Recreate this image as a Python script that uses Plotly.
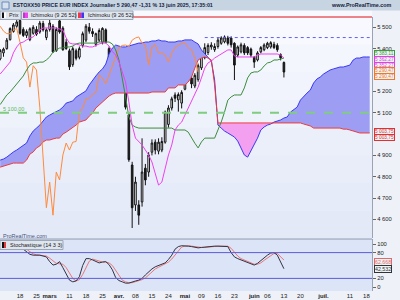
import plotly.graph_objects as go
import pandas as pd

# ---------------- data ----------------
holidays = ["2025-04-18", "2025-04-21", "2025-05-01"]
all_days = [d.strftime("%Y-%m-%d") for d in pd.bdate_range("2025-02-10", "2025-07-21")
            if d.strftime("%Y-%m-%d") not in holidays]
n_price = 87
dates = all_days[:n_price]

open_ = [5352, 5380, 5400, 5442, 5480, 5505, 5532, 5490, 5462, 5442,
         5472, 5490, 5478, 5518, 5452, 5490, 5505, 5390, 5530, 5496,
         5430, 5390, 5325, 5390, 5360, 5415, 5440, 5500, 5480, 5420,
         5440, 5430, 5488, 5400, 5370, 5323, 5277, 5320, 5262, 5090,
         4855, 4668, 4668, 4682, 4840, 4822, 4915, 4962, 4920, 4925,
         4962, 5045, 5122, 5183, 5160, 5145, 5210, 5285, 5262, 5225,
         5255, 5310, 5358, 5382, 5408, 5395, 5410, 5425, 5432, 5450,
         5450, 5425, 5370, 5385, 5415, 5405, 5398, 5360, 5347, 5385,
         5395, 5405, 5408, 5420, 5415, 5372, 5335]
high = [5398, 5405, 5450, 5500, 5520, 5540, 5545, 5500, 5490, 5500,
        5510, 5505, 5530, 5530, 5495, 5545, 5515, 5500, 5545, 5505,
        5445, 5400, 5410, 5400, 5410, 5480, 5515, 5520, 5495, 5475,
        5495, 5500, 5495, 5410, 5380, 5330, 5330, 5335, 5270, 5100,
        4870, 4800, 4690, 4980, 4860, 4915, 4975, 4975, 4980, 4985,
        5110, 5135, 5175, 5195, 5195, 5205, 5290, 5295, 5270, 5285,
        5330, 5375, 5425, 5425, 5430, 5425, 5450, 5458, 5462, 5460,
        5458, 5430, 5415, 5428, 5425, 5412, 5405, 5365, 5388, 5412,
        5425, 5432, 5435, 5432, 5425, 5378, 5340]
low = [5345, 5362, 5395, 5438, 5475, 5498, 5465, 5455, 5450, 5435,
       5465, 5460, 5470, 5480, 5440, 5480, 5380, 5385, 5470, 5390,
       5395, 5300, 5315, 5345, 5350, 5405, 5430, 5470, 5455, 5410,
       5430, 5420, 5425, 5350, 5330, 5210, 5265, 5290, 5115, 4870,
       4560, 4640, 4575, 4660, 4760, 4800, 4900, 4905, 4905, 4915,
       4955, 5030, 5110, 5150, 5105, 5120, 5205, 5245, 5215, 5215,
       5245, 5300, 5350, 5370, 5395, 5385, 5400, 5418, 5425, 5415,
       5405, 5253, 5360, 5378, 5370, 5370, 5360, 5310, 5340, 5378,
       5388, 5398, 5400, 5398, 5385, 5345, 5265]
close = [5392, 5398, 5440, 5494, 5511, 5525, 5472, 5462, 5480, 5493,
         5500, 5468, 5520, 5488, 5488, 5520, 5385, 5490, 5478, 5395,
         5400, 5315, 5400, 5355, 5400, 5470, 5505, 5482, 5470, 5470,
         5485, 5495, 5430, 5357, 5337, 5220, 5320, 5300, 5126, 4880,
         4655, 4775, 4620, 4822, 4785, 4902, 4958, 4925, 4962, 4965,
         5103, 5122, 5165, 5168, 5185, 5195, 5277, 5262, 5235, 5275,
         5320, 5368, 5405, 5415, 5417, 5410, 5440, 5450, 5455, 5425,
         5418, 5323, 5408, 5418, 5380, 5380, 5370, 5337, 5380, 5405,
         5417, 5425, 5428, 5405, 5395, 5357, 5290.47]

tenkan = [5281, 5300, 5319, 5337, 5380, 5408, 5426, 5431, 5441, 5450,
          5455, 5473, 5487, 5497, 5497, 5497, 5497, 5497, 5492, 5487,
          5450, 5426, 5422, 5422, 5417, 5412, 5412, 5408, 5408, 5417,
          5422, 5426, 5426, 5412, 5386, 5370, 5337, 5291, 5244, 5150,
          5042, 4981, 4963, 4949, 4925, 4902, 4869, 4818, 4761, 4775,
          4841, 4902, 4949, 5019, 5042, 5056, 5089, 5122, 5150, 5183,
          5220, 5263, 5309, 5333, 5342, 5356, 5366, 5375, 5384, 5394,
          5394, 5366, 5361, 5361, 5361, 5361, 5361, 5361, 5370, 5375,
          5375, 5375, 5375, 5375, 5375, 5370, 5356]
kijun = [5138, 5159, 5183, 5197, 5216, 5230, 5253, 5272, 5300, 5323,
         5333, 5333, 5337, 5337, 5347, 5361, 5384, 5394, 5403, 5403,
         5408, 5408, 5412, 5422, 5426, 5426, 5426, 5426, 5426, 5426,
         5431, 5431, 5431, 5431, 5422, 5394, 5347, 5267, 5174, 5080,
         5042, 5033, 5028, 5028, 5028, 5028, 5028, 5028, 5028, 5028,
         5028, 5028, 5028, 5019, 5019, 5019, 5019, 5009, 4981, 4957,
         4935, 4963, 4981, 4981, 4981, 4981, 5019, 5056, 5103, 5159,
         5174, 5183, 5183, 5183, 5216, 5263, 5286, 5291, 5291, 5300,
         5319, 5333, 5337, 5347, 5347, 5352, 5356]
senkou_a = [4878, 4883, 4892, 4906, 4916, 4925, 4935, 4944, 4958, 4991,
            5014, 5028, 5042, 5061, 5080, 5089, 5098, 5103, 5113, 5126,
            5145, 5150, 5155, 5173, 5183, 5192, 5202, 5230, 5253, 5272,
            5291, 5305, 5328, 5375, 5403, 5417, 5412, 5408, 5408, 5412,
            5417, 5422, 5426, 5426, 5431, 5431, 5436, 5436, 5441, 5436,
            5436, 5431, 5431, 5431, 5436, 5436, 5441, 5441, 5441, 5431,
            5422, 5394, 5375, 5361, 5342, 5253, 5042, 5028, 5014, 5005,
            4995, 4986, 4967, 4935, 4902, 4892, 4920, 4949, 4981, 5019,
            5033, 5042, 5047, 5056, 5061, 5066, 5075, 5080, 5103, 5113,
            5126, 5159, 5178, 5192, 5206, 5239, 5258, 5267, 5281, 5291,
            5300, 5305, 5309, 5314, 5314, 5319, 5323, 5347, 5356, 5356,
            5361, 5361, 5361]
senkou_b = [4845, 4850, 4855, 4859, 4864, 4864, 4864, 4864, 4878, 4906,
            4916, 4935, 4944, 4963, 4972, 4972, 4977, 4981, 4981, 5000,
            5009, 5019, 5028, 5042, 5056, 5061, 5066, 5084, 5098, 5122,
            5136, 5150, 5164, 5178, 5187, 5192, 5192, 5192, 5192, 5192,
            5192, 5192, 5192, 5192, 5192, 5192, 5197, 5197, 5197, 5197,
            5197, 5216, 5216, 5216, 5230, 5230, 5230, 5244, 5267, 5309,
            5347, 5356, 5361, 5356, 5347, 5230, 5052, 5052, 5052, 5052,
            5052, 5052, 5052, 5052, 5052, 5052, 5052, 5052, 5052, 5052,
            5052, 5052, 5052, 5052, 5052, 5052, 5052, 5052, 5052, 5052,
            5052, 5052, 5047, 5042, 5038, 5028, 5028, 5028, 5028, 5028,
            5028, 5028, 5028, 5028, 5023, 5023, 5019, 5014, 5009, 5005,
            5005, 5005, 5005]

stoch_k = [95, 96, 97, 97, 96, 95, 93, 88, 82, 76,
           74, 74, 74, 72, 70, 59, 51, 53, 59, 45,
           30, 16, 12, 14, 24, 50, 66, 66, 63, 60,
           56, 58, 59, 52, 40, 22, 15, 12, 9, 9,
           12, 14, 16, 20, 28, 36, 42, 47, 50, 53,
           56, 64, 74, 88, 94, 96, 96, 95, 94, 92,
           91, 92, 93, 94, 95, 95, 95, 95, 95, 94,
           80, 70, 66, 63, 60, 56, 53, 51, 55, 62,
           69, 74, 79, 80, 74, 60, 42.532]
stoch_d = [94, 95, 96, 96, 96, 96, 95, 92, 88, 82,
           77, 75, 74, 73, 72, 67, 60, 55, 54, 53,
           45, 32, 20, 14, 17, 29, 46, 60, 65, 63,
           60, 58, 58, 56, 50, 38, 26, 16, 12, 10,
           10, 12, 14, 17, 21, 28, 35, 42, 46, 50,
           53, 58, 65, 75, 85, 93, 95, 96, 95, 94,
           92, 92, 92, 93, 94, 95, 95, 95, 95, 95,
           90, 81, 72, 66, 63, 60, 56, 53, 53, 56,
           62, 68, 74, 78, 78, 71, 62.668]

chikou_shift = 26
support_level = 5100
resistance_level = 5452
resistance_start = "2025-05-12"

tick_dates = ["2025-02-18", "2025-02-25", "2025-03-03", "2025-03-11", "2025-03-18",
              "2025-03-25", "2025-04-01", "2025-04-08", "2025-04-15", "2025-04-24",
              "2025-05-02", "2025-05-09", "2025-05-16", "2025-05-23", "2025-06-02",
              "2025-06-06", "2025-06-13", "2025-06-20", "2025-07-01", "2025-07-11",
              "2025-07-18"]
tick_text = ["18", "25", "<b>mars</b>", "11", "18", "25", "<b>avr.</b>", "08", "15", "24",
             "<b>mai</b>", "09", "16", "23", "<b>juin</b>", "06", "13", "20", "<b>juil.</b>",
             "11", "18"]
price_ticks = [4600, 4700, 4800, 4900, 5100, 5200, 5400, 5500]
stoch_ticks = [0, 20, 80, 100]

title = "ESTOXX50 PRICE EUR INDEX Journalier 5 290,47 -1,31 % 13 juin 2025, 17:35:01"
value_labels = [  # text, color
    ("5 383,11", "#3d9a3d"),
    ("5 362,27", "#e040e0"),
    ("5 352,27", "#e040e0"),
    ("5 290,47", "#f07828"),
    ("5 290,47", "#f07828"),
    ("5 003,75", "#e03030"),
    ("5 003,75", "#e03030"),
]
stoch_labels = [("62,668", "#e06a6a"), ("42,532", "#333333")]

# ---------------- geometry helpers (layout only) ----------------
W, H = 400, 300
ML, MR, MT, MB = 0, 28, 17, 9
PW = W - ML - MR
PH = H - MT - MB


def PX(x):
    return (x - ML) / PW


def PY(y):
    return (H - MB - y) / PH


FONT = "Liberation Sans"

fig = go.Figure()

lower = [min(a, b) for a, b in zip(senkou_a, senkou_b)]
fig.add_trace(go.Scatter(x=all_days, y=lower, mode="lines", line=dict(width=0),
                         hoverinfo="skip", showlegend=False))
fig.add_trace(go.Scatter(x=all_days, y=senkou_a, mode="lines", line=dict(width=0),
                         fill="tonexty", fillcolor="#9d9ef3", hoverinfo="skip", showlegend=False))
fig.add_trace(go.Scatter(x=all_days, y=lower, mode="lines", line=dict(width=0),
                         hoverinfo="skip", showlegend=False))
fig.add_trace(go.Scatter(x=all_days, y=senkou_b, mode="lines", line=dict(width=0),
                         fill="tonexty", fillcolor="#f4a0f0", hoverinfo="skip", showlegend=False))
fig.add_trace(go.Scatter(x=all_days, y=senkou_a, mode="lines", line=dict(width=1, color="#3a3af0"),
                         showlegend=False))
fig.add_trace(go.Scatter(x=all_days, y=senkou_b, mode="lines", line=dict(width=1, color="#f03a3a"),
                         showlegend=False))
fig.add_trace(go.Scatter(x=dates[:n_price - chikou_shift], y=close[chikou_shift:], mode="lines",
                         line=dict(width=1, color="#ff8a3c"), showlegend=False))
fig.add_trace(go.Scatter(x=dates, y=kijun, mode="lines", line=dict(width=1, color="#3c8c3c"),
                         showlegend=False))
fig.add_trace(go.Scatter(x=dates, y=tenkan, mode="lines", line=dict(width=1, color="#f040f0"),
                         showlegend=False))
res_idx = all_days.index(resistance_start)
fig.add_trace(go.Scatter(x=[all_days[res_idx], all_days[-1]], y=[resistance_level] * 2, mode="lines",
                         line=dict(width=1, color="#6060f0", dash="dot"), showlegend=False))
fig.add_trace(go.Candlestick(x=dates, open=open_, high=high, low=low, close=close,
                             increasing=dict(line=dict(color="#111111", width=1), fillcolor="#ffffff"),
                             decreasing=dict(line=dict(color="#111111", width=1), fillcolor="#222222"),
                             whiskerwidth=0, showlegend=False))
fig.add_trace(go.Scatter(x=dates, y=stoch_d, yaxis="y2", mode="lines",
                         line=dict(width=1, color="#e87878"), showlegend=False))
fig.add_trace(go.Scatter(x=dates, y=stoch_k, yaxis="y2", mode="lines",
                         line=dict(width=1, color="#333344"), showlegend=False))

shapes = []
# main panel gradient background
bands = ["#f8f9fe", "#f4f6fd", "#f1f4fc", "#eef2fb", "#ebeffa", "#e8edf9", "#e6ebf9", "#e4e9f8"]
for i, c in enumerate(bands):
    shapes.append(dict(type="rect", xref="x domain", yref="y domain", x0=0, x1=1,
                       y0=1 - (i + 1) / len(bands), y1=1 - i / len(bands),
                       fillcolor=c, line=dict(width=0), layer="below"))
shapes.append(dict(type="rect", xref="x domain", yref="y2 domain", x0=0, x1=1, y0=0, y1=1,
                   fillcolor="#dce4f8", line=dict(width=0), layer="below"))
# top strip (under legend)
shapes.append(dict(type="rect", xref="paper", yref="paper", x0=0, x1=1, y0=1, y1=PY(10),
                   fillcolor="#f8f9fe", line=dict(width=0), layer="below"))
# stochastic levels
for lvl in (20, 80):
    shapes.append(dict(type="line", xref="x domain", yref="y2", x0=0, x1=1, y0=lvl, y1=lvl,
                       line=dict(color="#5c5cd8", width=1)))
shapes.append(dict(type="line", xref="x domain", yref="y2 domain", x0=0, x1=1, y0=1, y1=1,
                   line=dict(color="#8a96b0", width=1)))
# support
shapes.append(dict(type="line", xref="x domain", yref="y", x0=0, x1=1, y0=support_level, y1=support_level,
                   line=dict(color="#80cc80", width=2, dash="dash")))
# red top line
shapes.append(dict(type="line", xref="x domain", yref="y domain", x0=0, x1=1, y0=1, y1=1,
                   line=dict(color="#e01010", width=1)))
# header bar
shapes.append(dict(type="rect", xref="paper", yref="paper", x0=0, x1=W / PW, y0=PY(10.5), y1=PY(0),
                   fillcolor="#c7d4e1", line=dict(width=0)))
# legend boxes
for x0, x1 in ((0, 21), (21.5, 75.5), (76, 133)):
    shapes.append(dict(type="rect", xref="paper", yref="paper", x0=PX(x0), x1=PX(x1),
                       y0=PY(19.5), y1=PY(11), fillcolor="#dfe5ec", line=dict(color="#9ba7b6", width=1)))
shapes.append(dict(type="rect", xref="paper", yref="paper", x0=PX(0), x1=PX(63),
                   y0=PY(249.5), y1=PY(240.5), fillcolor="#dfe5ec", line=dict(color="#9ba7b6", width=1)))
# legend icons
icons = [(2, 4, "#111111"), (4, 6, "#ffffff"), (23, 25, "#b040c0"), (25, 28, "#f040f0"),
         (78, 80, "#f03a3a"), (80, 82, "#b040c0"), (82, 84, "#3a3af0"),
         (2, 4, "#111111"), (4, 6, "#e04040")]
for k, (x0, x1, c) in enumerate(icons):
    yy = (12.5, 18) if k < 7 else (242, 248)
    shapes.append(dict(type="rect", xref="paper", yref="paper", x0=PX(x0), x1=PX(x1),
                       y0=PY(yy[1]), y1=PY(yy[0]), fillcolor=c, line=dict(width=0)))
# header icon
shapes.append(dict(type="rect", xref="paper", yref="paper", x0=PX(2), x1=PX(9), y0=PY(9), y1=PY(2),
                   fillcolor="#d8e2ee", line=dict(color="#6a8cc0", width=1)))

ann = []
ann.append(dict(text=f"<b>{title}</b>", xref="paper", yref="paper", x=PX(11), y=PY(5.2),
                xanchor="left", yanchor="middle", showarrow=False,
                font=dict(family=FONT, size=5.3, color="#15233f")))
ann.append(dict(text="<b>www.ProRealTime.com</b>", xref="paper", yref="paper", x=PX(394), y=PY(5.2),
                xanchor="right", yanchor="middle", showarrow=False,
                font=dict(family=FONT, size=5.4, color="#15233f")))
for x, t in ((7, "Prix"), (29, "Ichimoku (9 26 52)"), (86, "Ichimoku (9 26 52)")):
    ann.append(dict(text=t, xref="paper", yref="paper", x=PX(x), y=PY(15.3), xanchor="left",
                    yanchor="middle", showarrow=False, font=dict(family=FONT, size=5.5, color="#1a1a2a")))
ann.append(dict(text="Stochastique (14 3 3)", xref="paper", yref="paper", x=PX(7.5), y=PY(245),
                xanchor="left", yanchor="middle", showarrow=False,
                font=dict(family=FONT, size=5.5, color="#1a1a2a")))
ann.append(dict(text="ProRealTime.com", xref="paper", yref="paper", x=PX(1), y=PY(235.5),
                xanchor="left", yanchor="middle", showarrow=False,
                font=dict(family=FONT, size=5.5, color="#45557a")))
ann.append(dict(text="5 100,00", xref="paper", yref="paper", x=PX(1), y=PY(109),
                xanchor="left", yanchor="middle", showarrow=False,
                font=dict(family=FONT, size=5.5, color="#5cb85c")))
label_y = [53.6, 59.4, 65.0, 70.6, 76.4, 131.3, 137.0]
for (t, c), yy in zip(value_labels, label_y):
    ann.append(dict(text=t, xref="paper", yref="paper", x=PX(374), y=PY(yy), xanchor="left",
                    yanchor="middle", showarrow=False, bgcolor="#eef3f6", bordercolor=c,
                    borderwidth=1, borderpad=0, font=dict(family=FONT, size=4.8, color=c)))
for (t, c), yy in zip(stoch_labels, [261.7, 269.0]):
    ann.append(dict(text=t, xref="paper", yref="paper", x=PX(374), y=PY(yy), xanchor="left",
                    yanchor="middle", showarrow=False, bgcolor="#eef3f6", bordercolor=c,
                    borderwidth=1, borderpad=0, font=dict(family=FONT, size=5.3, color=c)))

# y ranges (px -> value): main 5500 at y=27.3, 0.2135 px/pt ; stoch 100 at 244, 0 at 287
main_top = 5500 + (27.3 - MT) / 0.2135
main_bot = 5500 - (238 - 27.3) / 0.2135
st_top = 100 + (244 - 239) / 0.43
st_bot = 0 - (291 - 287) / 0.43

fig.update_layout(
    width=W, height=H, margin=dict(l=ML, r=MR, t=MT, b=MB),
    paper_bgcolor="#eef1f8", plot_bgcolor="#eef2fb",
    separators=", ", showlegend=False, hovermode=False,
    font=dict(family=FONT, size=6, color="#222222"),
    xaxis=dict(type="category", categoryorder="array", categoryarray=all_days,
               range=[-0.06, 112.7], anchor="y2", tickvals=tick_dates, ticktext=tick_text,
               showgrid=False, zeroline=False, showline=False, ticks="",
               tickfont=dict(family=FONT, size=6, color="#222222"),
               rangeslider=dict(visible=False), fixedrange=True),
    yaxis=dict(domain=[PY(238), 1], range=[main_bot, main_top], side="right", anchor="x",
               tickvals=price_ticks, tickformat=",d", showgrid=False, zeroline=False,
               showline=True, linecolor="#9aa3b5", linewidth=1, ticks="outside", ticklen=3,
               tickcolor="#666666", tickfont=dict(family=FONT, size=5.8, color="#222222"),
               fixedrange=True),
    yaxis2=dict(domain=[0, PY(239)], range=[st_bot, st_top], side="right", anchor="x",
                tickvals=stoch_ticks, showgrid=False, zeroline=False,
                showline=True, linecolor="#9aa3b5", linewidth=1, ticks="outside", ticklen=3,
                tickcolor="#666666", tickfont=dict(family=FONT, size=5.8, color="#222222"),
                fixedrange=True),
    shapes=shapes, annotations=ann,
)

fig.write_html("out.html")
